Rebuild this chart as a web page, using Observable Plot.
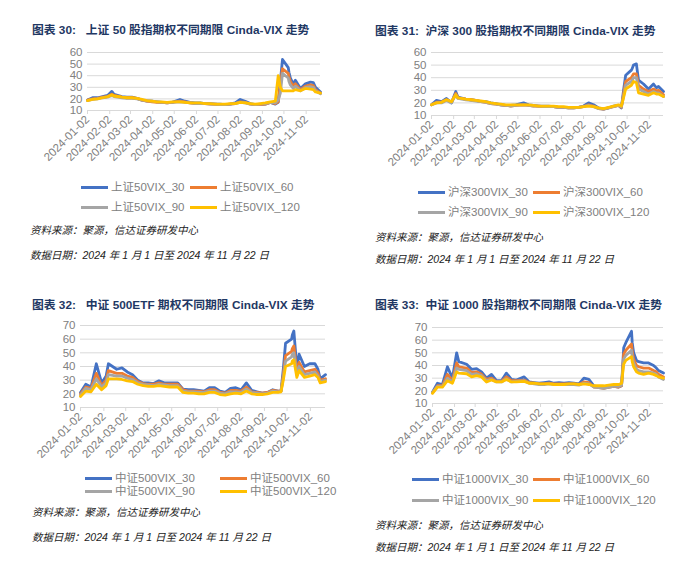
<!DOCTYPE html>
<html><head><meta charset="utf-8">
<script src="https://cdn.jsdelivr.net/npm/d3@7"></script>
<script src="https://cdn.jsdelivr.net/npm/@observablehq/plot@0.6"></script>
<style>
body{margin:0;background:#fff;width:700px;height:579px;position:relative;overflow:hidden;font-family:"Liberation Sans",Arial,"Noto Sans CJK SC",sans-serif;}
.abs{position:absolute;white-space:pre;}
.title{font-weight:bold;font-size:11.8px;color:#1f3864;line-height:14px;}
.src{font-style:italic;font-size:10.5px;color:#222;line-height:12px;}
.leg{font-size:11.5px;color:#808080;line-height:12px;display:flex;align-items:center;}
.sw{display:inline-block;width:27px;height:3px;margin-right:3px;}
svg{position:absolute;overflow:visible;}
</style>
</head><body>
<script>
// ---- data ----
const dates = ["2024-01-02","2024-01-09","2024-01-16","2024-01-23","2024-01-30","2024-02-05","2024-02-08","2024-02-19","2024-02-26","2024-03-04",
"2024-03-11","2024-03-18","2024-03-25","2024-04-01","2024-04-08","2024-04-15","2024-04-22","2024-04-29","2024-05-10","2024-05-17",
"2024-05-24","2024-05-31","2024-06-07","2024-06-14","2024-06-21","2024-06-28","2024-07-05","2024-07-12","2024-07-19","2024-07-26",
"2024-08-02","2024-08-09","2024-08-16","2024-08-23","2024-08-30","2024-09-06","2024-09-13","2024-09-20","2024-09-24","2024-09-27",
"2024-09-30","2024-10-08","2024-10-09","2024-10-11","2024-10-15","2024-10-18","2024-10-25","2024-11-01","2024-11-08","2024-11-12","2024-11-15","2024-11-22"];
const xTicks = ["2024-01-02","2024-02-02","2024-03-02","2024-04-02","2024-05-02","2024-06-02","2024-07-02","2024-08-02","2024-09-02","2024-10-02","2024-11-02"];
const yTicks60 = [10,20,30,40,50,60];
const yTicks70 = [10,20,30,40,50,60,70];

const sz50_30 = [19,21,21,22,23,26.5,24,22,21.5,21.5,20.5,19,18,18,17.5,17,16.5,17,19.5,18,17,16.5,16.5,16,16,15.5,15.5,15,15.5,16.5,19.5,18,16,15,15,15.5,17,15.5,17,35,54,47,43,38,33,36,29,33,34.5,34,30,26];
const sz50_60 = [19,20,20.5,21.5,22,24,23,21.5,21,21,20.5,19,18,17.5,17,17,16.5,17,18,17.5,16.5,16,16,16,15.5,15.5,15,15,15.5,16,17.5,17,15.5,15,15,15.5,17,16,17.5,32,46,42,39,35,31,33,28,31,32,31.5,28,25];
const sz50_90 = [18.5,19.5,20,21,21.5,23,22,21,20.5,20.5,20,19,18.5,18,17.5,17,17,17,17.5,17,16.5,16,16,16,15.5,15.5,15,15,15.5,16,17,16.5,15.5,15,15.5,16,17,16.5,19,25,42,38,35,32,29,31,27,30,30.5,30,27,24.5];
const sz50_120 = [18.5,19.5,20,21,22,23.5,22.5,21.5,21,21,20.5,19.5,18.5,18,17.5,17.5,17,17.5,17.5,17,16.5,16.5,16.5,16,16,15.5,15.5,15.5,16,16,17,16.5,16,15.5,16,16.5,17.5,18,40,30,27,27,27,27,27,28,27,29,28.5,28,26,25];

const hs300_30 = [18.5,22,21,23.5,20,29,24.5,23,22.5,22,21,21,20,19.5,18.5,18,18,18.5,20,18.5,18,17.5,17.5,17.5,17,16.5,16.5,16,16,16.5,17.5,20,18.5,16,15,16,17.5,18,16,30,42,46,47,50,51,38,35,31,35,32,33,29];
const hs300_60 = [18.5,20.5,20.5,22.5,20.5,27.5,24,23,22.5,22,21,20.5,19.5,19,18.5,18,17.5,18,18.5,18,17.5,17.5,17,17,17,16.5,16.5,16,16,16.5,17,18.5,17.5,15.5,15,16,17,18,16.5,27,37,40,41,43,43,34,31,29,31,29.5,30,26.5];
const hs300_90 = [18.5,20,20,22,20,26.5,23.5,22.5,22,21.5,21,20.5,19.5,19,18.5,18,17.5,18,18.5,18,17.5,17.5,17,17,17,16.5,16.5,16,16,16.5,17,18,17,15.5,15,16,17,18,17,25,34,37,38,40,40,31,29,27,29,28,28,25];
const hs300_120 = [18.5,20,20.5,22.5,21,26.5,24,23,22.5,22,21.5,21,20,19.5,19,18.5,18.5,18.5,18.5,18.5,18,17.5,17.5,17.5,17.5,17,17,16.5,16.5,16.5,17,17.5,17,16,15.5,16.5,17.5,18.5,17.5,24,31,34,35,37,36,28,27,26,28,27,27,25];

const zz500_30 = [21,27,25,42,28,33,42,38,39,36,34,30,28,28,27.5,29.5,28,28,28,23.5,23,23,22.5,22,24.5,24.5,22,21,24,24.5,23,28,22.5,21.5,20.5,21,23,22,22,38,57,60,63,66,39,49,40,42,42,38,31,34];
const zz500_60 = [20,25,24,35,26,30,37,35,35,33,32,29,27.5,27,27,28,27,27,27,23,22,22,22,21.5,23,23,21,20.5,22.5,22.5,22,25,21.5,21,20.5,21,22.5,22,22,34,48,51,53,55,36,43,36,37,38,35,30,31];
const zz500_90 = [19,24,23,31,25,28,34,33,33,31.5,30.5,28,27,26.5,26,27,26.5,26,26,22,21.5,21.5,21,21,22,22,20.5,20,21.5,21.5,21,23.5,21,20.5,20,20.5,22,21.5,22,32,44,47,49,50,34,40,34,35,36,33,29,30];
const zz500_120 = [18,22,21.5,27,23,26,31,31,30.5,29.5,29,27,26,25.5,25.5,26,25.5,25,25,21,20.5,20.5,20,20,21,21,19.5,19,20,20.5,20,22,20,19.5,19.5,20,21,21,21.5,30,40,42,44,45,32,37,32,33,34,32,28,29];

const zz1000_30 = [19,26,25,39,30,50,43,41,37,37.5,35,30,33,28,28,34,29,28.5,31,27,26.5,26,26.5,27,26,26.5,26,26.5,26,25.5,30,29,24,23,22.5,23,23.5,23,24,54,58,67,58,50,44,43,42,42,40,38,36,34];
const zz1000_60 = [18.5,24,24,33,28,42,39,38,34.5,35,33,29,30,27.5,27.5,31,28,28,28.5,26.5,26,25.5,25.5,26,25.5,25.5,25.5,25.5,25.5,25,27,26.5,23,22.5,22,23,23.5,23,24,49,52,57,51,45,40,39,38,38,36,35,33,31];
const zz1000_90 = [18.5,23.5,23.5,30,27,38,37,36,33,33.5,32,28,29,27,27,29.5,27,27.5,28,26,25.5,25,25,25.5,25,25,25,25,25,24.5,26,25.5,23,22.5,22,23,23.5,23.5,24.5,45,48,52,47,42,37,36,35,35,34,33,31,29];
const zz1000_120 = [18,23,23,28,26,35,34,33.5,31,32,31,27,28.5,27,27,29,27,27,27.5,26,26,25.5,25.5,25.5,25,25,25,25.5,25.5,25,25.5,25,24,24,24,24.5,25,25,26,41,44,47,43,39,35,34,33,34,33,32,31,30];

const titles = ["图表 30:   上证 50 股指期权不同期限 Cinda-VIX 走势","图表 31:  沪深 300 股指期权不同期限 Cinda-VIX 走势","图表 32:   中证 500ETF 期权不同期限 Cinda-VIX 走势","图表 33:  中证 1000 股指期权不同期限 Cinda-VIX 走势"];
const names1 = ["上证50VIX_30","上证50VIX_60","上证50VIX_90","上证50VIX_120"];
const names2 = ["沪深300VIX_30","沪深300VIX_60","沪深300VIX_90","沪深300VIX_120"];
const names3 = ["中证500VIX_30","中证500VIX_60","中证500VIX_90","中证500VIX_120"];
const names4 = ["中证1000VIX_30","中证1000VIX_60","中证1000VIX_90","中证1000VIX_120"];
const sourceText = "资料来源：聚源，信达证券研发中心";
const dateText = "数据日期：2024 年 1 月 1 日至 2024 年 11 月 22 日";
const colors = ["#4472C4","#ED7D31","#A5A5A5","#FFC000"];

// ---- layout ----
const panels = [
  {title:titles[0], names:names1, series:[sz50_30,sz50_60,sz50_90,sz50_120], yTicks:yTicks60, yMax:60,
   tx:32, ty:30, svg:{left:0,top:40,width:340,height:140,ml:87,mr:20,mt:12,mb:70},
   leg:[[81,187],[190,187],[81,207],[190,207]], src:[30,230], dt:[30,255]},
  {title:titles[1], names:names2, series:[hs300_30,hs300_60,hs300_90,hs300_120], yTicks:yTicks60, yMax:60,
   tx:375, ty:31, svg:{left:350,top:40,width:350,height:140,ml:81,mr:37,mt:12,mb:65},
   leg:[[418,192],[533,192],[418,212],[533,212]], src:[375,237], dt:[375,259]},
  {title:titles[2], names:names3, series:[zz500_30,zz500_60,zz500_90,zz500_120], yTicks:yTicks70, yMax:70,
   tx:32, ty:305, svg:{left:0,top:310,width:340,height:160,ml:80,mr:15,mt:15,mb:63},
   leg:[[85,478],[220,478],[85,491],[220,491]], src:[32,512], dt:[32,537]},
  {title:titles[3], names:names4, series:[zz1000_30,zz1000_60,zz1000_90,zz1000_120], yTicks:yTicks70, yMax:70,
   tx:375, ty:305, svg:{left:350,top:310,width:350,height:160,ml:82,mr:37,mt:17,mb:67},
   leg:[[412,479],[533,479],[412,500],[533,500]], src:[375,525], dt:[375,547]}
];

function addDiv(cls, text, left, cy, h){
  const d = document.createElement("div");
  d.className = "abs " + cls;
  d.textContent = text;
  d.style.left = left + "px";
  d.style.top = (cy - h/2) + "px";
  document.body.appendChild(d);
  return d;
}

const parse = d3.utcParse("%Y-%m-%d");
const fmt = d3.utcFormat("%Y-%m-%d");

for (const p of panels) {
  addDiv("title", p.title, p.tx, p.ty, 14);
  const marks = [
    Plot.gridY(p.yTicks, {stroke:"#d9d9d9", strokeOpacity:1, strokeWidth:1}),
    Plot.axisY(p.yTicks, {tickSize:0, tickPadding:5, fontSize:11.5, fill:"#808080", label:null}),
    Plot.axisX(xTicks.map(parse), {tickFormat:fmt, tickRotate:-45, tickSize:4, tickPadding:3, fontSize:11.5, fill:"#808080", stroke:"#d9d9d9", label:null})
  ];
  p.series.forEach((vals, k) => {
    const data = dates.map((d, i) => ({date: parse(d), v: vals[i]}));
    marks.push(Plot.lineY(data, {x:"date", y:"v", stroke:colors[k], strokeWidth:2.8, curve:"linear"}));
  });
  const s = p.svg;
  const chart = Plot.plot({
    width:s.width, height:s.height,
    marginLeft:s.ml, marginRight:s.mr, marginTop:s.mt, marginBottom:s.mb,
    x:{type:"utc", domain:[parse("2024-01-02"), parse("2024-11-22")]},
    y:{domain:[10, p.yMax]},
    style:{fontFamily:'"Liberation Sans", Arial, sans-serif', background:"transparent", overflow:"visible"},
    marks
  });
  chart.style.left = s.left + "px";
  chart.style.top = s.top + "px";
  document.body.appendChild(chart);

  p.names.forEach((n, k) => {
    const [lx, ly] = p.leg[k];
    const d = document.createElement("div");
    d.className = "abs leg";
    d.style.left = lx + "px";
    d.style.top = (ly - 6) + "px";
    const sw = document.createElement("span");
    sw.className = "sw";
    sw.style.background = colors[k];
    d.appendChild(sw);
    d.appendChild(document.createTextNode(n));
    document.body.appendChild(d);
  });
  addDiv("src", sourceText, p.src[0], p.src[1], 12);
  addDiv("src", dateText, p.dt[0], p.dt[1], 12);
}
</script>
</body></html>
